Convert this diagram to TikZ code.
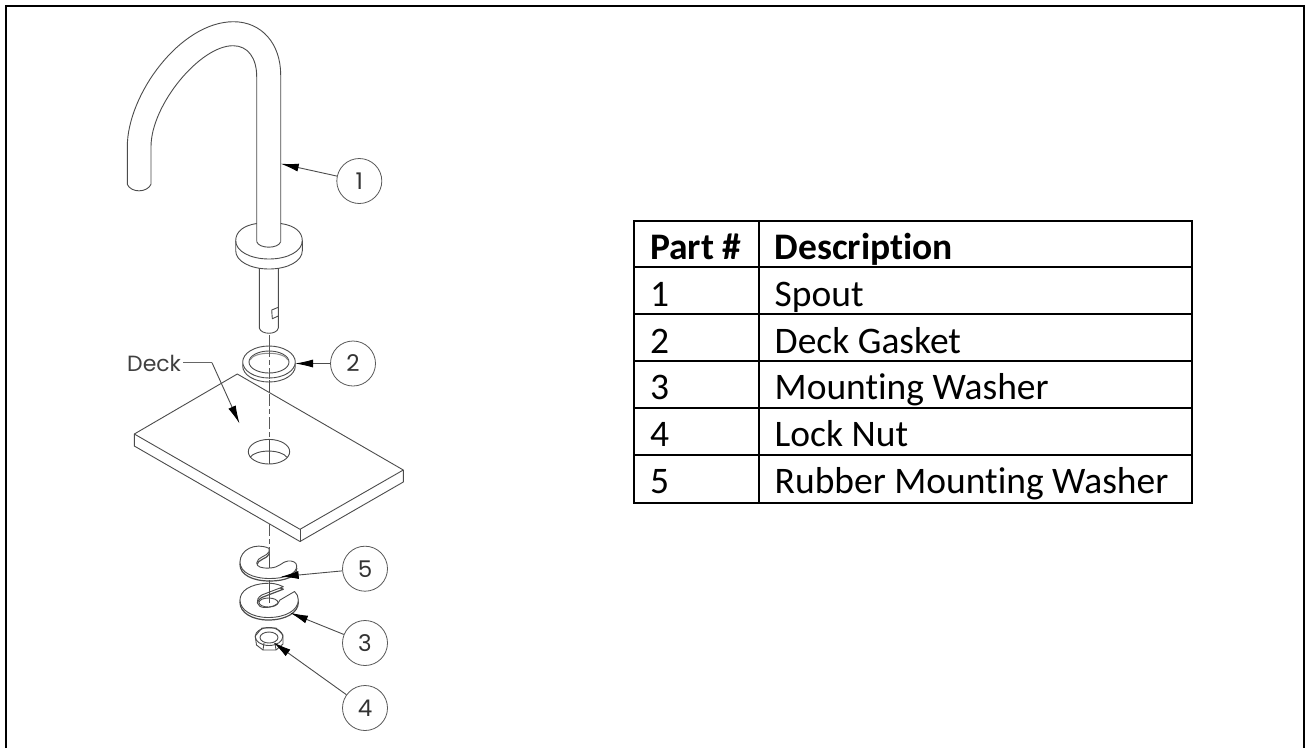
\documentclass[tikz,border=0pt]{standalone}
\usepackage{fontspec}
\setmainfont{Carlito}[Ligatures=NoCommon]
\newfontfamily\drawfont{Poppins}
\usetikzlibrary{arrows.meta}
\tikzset{
  part/.style={draw=black!70,line width=0.9pt,line join=round,fill=white},
  edge/.style={draw=black!70,line width=0.9pt,line join=round},
  axisline/.style={draw=black!65,line width=0.9pt,dash pattern=on 12pt off 3pt on 5pt off 3pt},
  balloon/.style={circle,draw=black!65,line width=0.8pt,minimum size=45pt,inner sep=0pt,font=\drawfont\fontsize{23}{26}\selectfont,text=black!80},
  leader/.style={draw=black!70,line width=0.9pt,-{Latex[length=18pt,width=8pt,black]},shorten >=0pt},
  rule/.style={draw=black,line width=2pt},
  cell/.style={anchor=base west,inner sep=0pt,font=\fontsize{37.5}{42}\selectfont},
  head/.style={cell,font=\bfseries\fontsize{37.5}{42}\selectfont}
}
\begin{document}
\begin{tikzpicture}[x=1pt,y=-1pt]
\useasboundingbox (0,0) rectangle (1305,748);
\fill[white] (0,0) rectangle (1305,748);
% frame
\draw[draw=black,line width=2pt] (6,748) -- (6,5.5) -- (1303.7,5.5) -- (1303.7,748);
% centre line
\draw[axisline] (269,335) -- (269,372);
\draw[edge] (269,380) -- (269,396);
\draw[axisline] (269,396) -- (269,440);
\draw[axisline] (269,524) -- (269,558);
\draw[edge] (269,558) -- (269,602);
% spout
\draw[edge] (256.7,241.7) -- (256.7,76.7) .. controls (256.7,58) and (248,45.7) .. (233,45.7)
  .. controls (200,45.7) and (151,105) .. (151,146.7) -- (151,184.3)
  .. controls (147,193) and (131,193) .. (127.3,184.3) -- (127.3,146.7)
  .. controls (127.3,95) and (180,22) .. (233.3,21.7)
  .. controls (262,21.7) and (280.7,44) .. (280.7,75) -- (280.7,241.7);
% flange
\draw[edge] (256.7,223.5) .. controls (243,225.5) and (235.7,232) .. (235.7,240.7) -- (235.7,250.7)
  .. controls (235.7,261) and (250,269) .. (269,269)
  .. controls (288,269) and (302.3,261) .. (302.3,250.7) -- (302.3,240.7)
  .. controls (302.3,232) and (295,225.5) .. (280.7,223.5);
\draw[edge] (235.7,240.7) .. controls (235.7,251) and (250,259) .. (269,259)
  .. controls (288,259) and (302.3,251) .. (302.3,240.7);
\draw[edge] (256.7,241.7) .. controls (259,249) and (278.5,249) .. (280.7,241.7);
% shank
\draw[edge] (259.3,268) -- (259.3,328) .. controls (261,335) and (277,335) .. (278.3,328) -- (278.3,268);
\draw[edge] (278.3,307.3) -- (271.7,310) -- (272.3,318.7) -- (278.3,316);
% gasket
\draw[edge] (269,366) ellipse [x radius=26.3pt,y radius=16pt];
\draw[part,fill=white] (269,362) ellipse [x radius=26.3pt,y radius=16pt];
\draw[edge,fill=white] (269,362) ellipse [x radius=20pt,y radius=11pt];
\draw[draw=black!45,line width=1pt] (250,360) .. controls (254,351) and (284,351) .. (288,360);
\draw[axisline] (269,345) -- (269,379);
% deck
\draw[part] (237.3,374) -- (403.3,470) -- (403.3,482) -- (300,541.5) -- (134.3,446) -- (134.3,434) -- cycle;
\draw[edge] (134.3,434) -- (300,529.3) -- (403.3,470);
\draw[edge] (300,529.3) -- (300,541.5);
\draw[axisline] (269,394) -- (269,440);
\draw[edge] (269,440) -- (269,464);
% hole
\draw[edge] (269,451.7) ellipse [x radius=20.7pt,y radius=12.3pt];
\draw[edge] (250,457.3) .. controls (256,449) and (281,449) .. (287,457.3);
\draw[edge] (269,439.4) -- (269,464);
% washer 5 (rubber)
\newcommand{\washerfive}{(269,548.3) .. controls (255,542) and (240,550) .. (240,562)
  .. controls (240,572) and (252,578.5) .. (270,578.5)
  .. controls (285,578.5) and (296.7,574) .. (296.7,566)
  .. controls (296.7,562) and (292,560.5) .. (288,561)
  .. controls (282,561.5) and (280,567.5) .. (270,568)
  .. controls (262,568.5) and (256.7,567) .. (256.7,563)
  .. controls (256.7,557) and (268,556) .. (269,551.7) -- cycle}
\begin{scope}[shift={(0,2.5)}]
\draw[part,line width=1.2pt] \washerfive;
\end{scope}
\draw[part] \washerfive;
\draw[edge] (269,558) -- (269,568);
% washer 3 (mounting)
\newcommand{\washerthree}{(283.3,586.7) .. controls (277,583.5) and (271,583) .. (266.7,583.3)
  .. controls (250,584) and (240,591) .. (240,600)
  .. controls (240,610) and (252,617.5) .. (268.3,617.5)
  .. controls (286,617.5) and (298.3,610) .. (298.3,600)
  .. controls (298.3,596.5) and (297,593.5) .. (294.5,591.5)
  -- (280,600) .. controls (279,605) and (270,608) .. (264,607.5)
  .. controls (257,607) and (254,600) .. (261.7,595) -- cycle}
\begin{scope}[shift={(0,2.5)}]
\draw[part,line width=1.2pt] \washerthree;
\end{scope}
\draw[part] \washerthree;
\draw[edge] (268.5,602.5) ellipse [x radius=9.5pt,y radius=4.5pt];
\draw[edge] (269,580) -- (269,603);
% nut
\draw[part] (255.2,636) -- (256.5,645) -- (263,650) -- (276,650) -- (283,644) -- (283,635) -- (276,628) -- (262,628) -- cycle;
\draw[edge] (269,636.5) ellipse [x radius=13.8pt,y radius=9pt];
\draw[edge] (269,637.5) ellipse [x radius=9pt,y radius=5.5pt];
\draw[edge] (263,650) -- (264,643);\draw[edge] (276,650) -- (275,643);
% balloons
\node[balloon] (b1) at (359.3,181) {1};
\node[balloon] (b2) at (353,363.5) {2};
\node[balloon] (b5) at (365,568.7) {5};
\node[balloon] (b3) at (365,643) {3};
\node[balloon] (b4) at (365,708) {4};
\coordinate (t1) at (280.7,163.7);
\coordinate (t2) at (295,363.5);
\coordinate (t5) at (280.7,576.7);
\coordinate (t3) at (290,612.7);
\coordinate (t4) at (273.3,642.3);
\draw[leader] (b1) -- (t1);
\draw[leader] (b2) -- (t2);
\draw[leader] (b5) -- (t5);
\draw[leader] (b3) -- (t3);
\draw[leader] (b4) -- (t4);
% deck label
\node[anchor=base west,inner sep=0pt,font=\drawfont\fontsize{22}{25}\selectfont,text=black!75] (deck) at (127,371) {Deck};
\coordinate (dk) at (212,362.7);
\coordinate (dt) at (239.5,423.5);
\draw[draw=black!60,line width=0.8pt] (deck.east |- dk) ++(2,0) -- (dk);
\draw[leader] (dk) -- (dt);
% table
\draw[rule] (634,221) rectangle (1192,502.5);
\draw[rule] (759,221) -- (759,502.5);
\foreach \y in {267,314,360.5,407.5,454.5} \draw[rule] (634,\y) -- (1192,\y);
\node[head] (h1) at (650,259) {Part \#};
\node[head] (h2) at (774.5,259) {Description};
\node[cell] (n1) at (650,306.5) {1};
\node[cell] (d1) at (774.5,306.5) {Spout};
\node[cell] (n2) at (650,353) {2};
\node[cell] (d2) at (774.5,353) {Deck Gasket};
\node[cell] (n3) at (650,399.8) {3};
\node[cell] (d3) at (774.5,399.8) {Mounting Washer};
\node[cell] (n4) at (650,446.8) {4};
\node[cell] (d4) at (774.5,446.8) {Lock Nut};
\node[cell] (n5) at (650,493.3) {5};
\node[cell] (d5) at (774.5,493.3) {Rubber Mounting Washer};
\end{tikzpicture}
\end{document}
